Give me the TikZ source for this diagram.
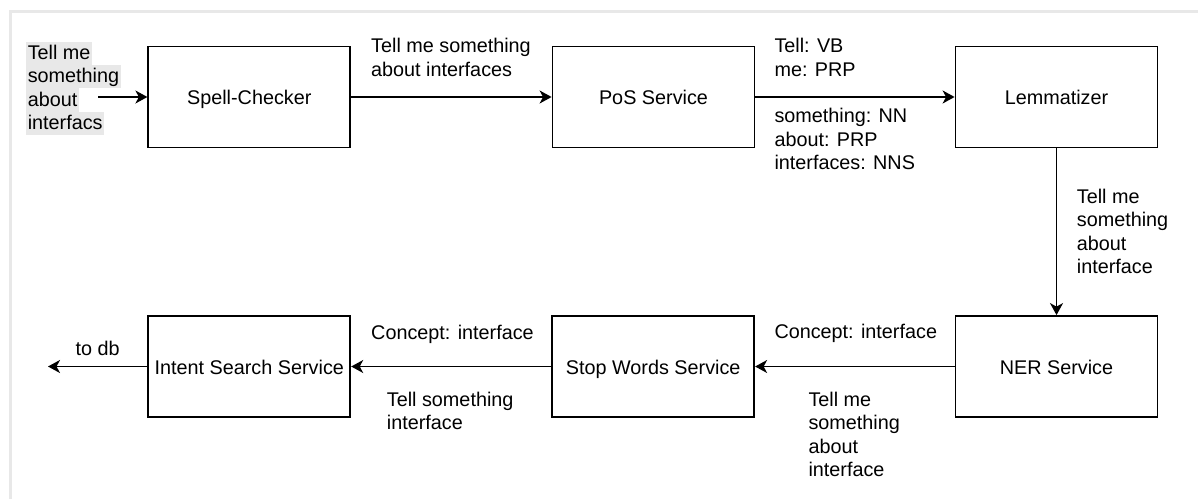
\documentclass[tikz,border=0pt]{standalone}
\usepackage{fontspec}
\setmainfont{Liberation Sans}
\usetikzlibrary{arrows.meta}
\definecolor{framegray}{HTML}{E8E8E8}
\definecolor{hl}{HTML}{E8E8E8}
\newcommand{\mlines}[1]{\begin{tabular}[t]{@{}l@{}}#1\end{tabular}}
\begin{document}
\begin{tikzpicture}[x=1pt,y=-1pt,
  every node/.style={font=\fontsize{19.8}{23.5}\selectfont},
  svc/.style={draw=black, line width=1.8pt, minimum width=202pt, minimum height=101pt, inner sep=0pt, text height=15pt, text depth=0pt, fill=white},
  lbl/.style={anchor=base west, inner sep=0pt},
  hlline/.style={anchor=base west, fill=hl, inner xsep=1.6pt, inner ysep=0pt, text height=17.8pt, text depth=5.5pt},
  flow/.style={draw=black, line width=1.6pt, -{Stealth[length=12pt,width=13pt,inset=3.5pt]}}]
\useasboundingbox (0,0) rectangle (1198,499);
\draw[framegray, line width=3pt] (1198,11) -- (10.5,11) -- (10.5,499);

% services
\node[svc] (spell) at (249.3,97) {Spell-Checker};
\node[svc] (pos) at (653.5,97) {PoS Service};
\node[svc] (lem) at (1056.5,97) {Lemmatizer};
\node[svc] (intent) at (249.3,366.5) {Intent Search Service};
\node[svc] (stop) at (653.2,366.5) {Stop Words Service};
\node[svc] (ner) at (1056.5,366.5) {NER Service};

% input text
\node[hlline] (in1) at (26,59.5) {Tell me};
\node[hlline] (in2) at (26,82.8) {something};
\node[hlline] (in3) at (26,106.1) {about};
\node[hlline] (in4) at (26,129.4) {interfacs};

% connectors
\coordinate (inend) at (98,97);
\coordinate (db) at (48,366.5);
\draw[flow] (inend) -- (spell.west);
\draw[flow] (spell.east) -- (pos.west);
\draw[flow] (pos.east) -- (lem.west);
\draw[flow] (lem.south) -- (ner.north);
\draw[flow] (ner.west) -- (stop.east);
\draw[flow] (stop.west) -- (intent.east);
\draw[flow] (intent.west) -- (db);

% labels
\node[lbl] (l1) at (371,52.7) {\mlines{Tell me something\\about interfaces}};
\node[lbl] (l2a) at (774.3,52.7) {\mlines{Tell: VB\\me: PRP}};
\node[lbl] (l2b) at (774.3,122.7) {\mlines{something: NN\\about: PRP\\interfaces: NNS}};
\node[lbl] (l3) at (1076.7,203.3) {\mlines{Tell me\\something\\about\\interface}};
\node[lbl] (l4a) at (774.3,338.3) {Concept: interface};
\node[lbl] (l4b) at (808.3,406) {\mlines{Tell me\\something\\about\\interface}};
\node[lbl] (l5a) at (371,339) {Concept: interface};
\node[lbl] (l5b) at (386.7,406) {\mlines{Tell something\\interface}};
\node[lbl] (l6) at (75.5,355.5) {to db};
\end{tikzpicture}
\end{document}
